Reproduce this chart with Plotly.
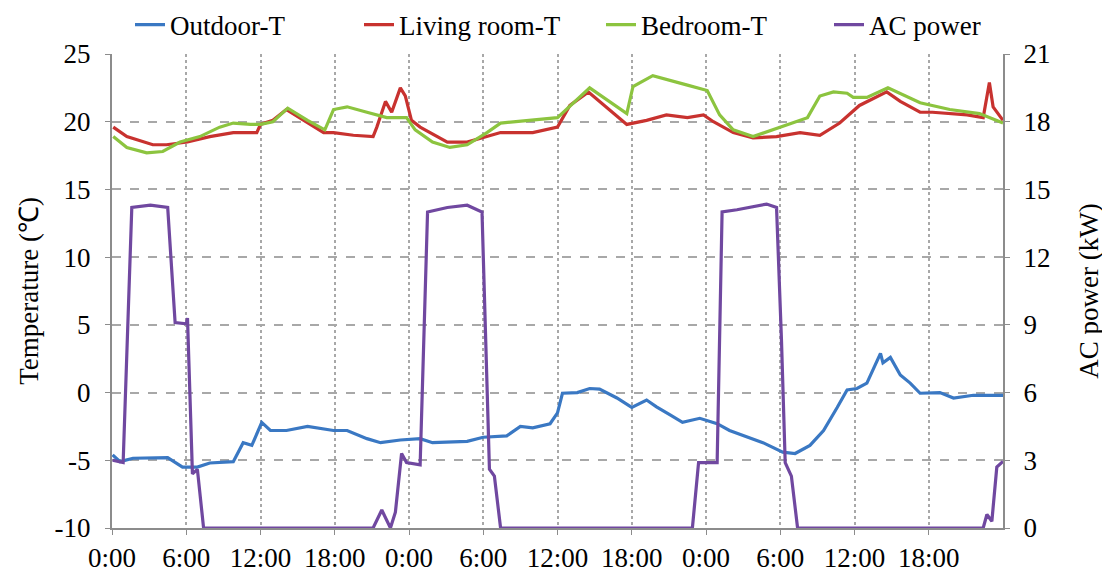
import plotly.graph_objects as go

# hours since start (0..72)
out_h = [0.05, 0.65, 1.7, 3.9, 4.5, 5.7, 6.9, 7.9, 9.8, 10.6, 11.3, 12.1, 12.8, 14.1, 15.8, 17.9, 19.0, 20.6, 21.7, 23.3,
         24.9, 25.9, 28.7, 30.0, 31.9, 33.0, 34.0, 35.4, 36.0, 36.4, 37.6, 38.6, 39.4, 40.8, 42.0, 43.2, 44.0, 45.1, 46.1,
         47.5, 48.9, 49.9, 51.6, 52.6, 54.2, 55.2, 56.4, 57.5, 58.6, 59.4, 60.2, 61.0, 62.1, 62.3, 62.9, 63.7, 64.5, 65.3,
         66.9, 68.0, 69.6, 72.0]
out_t = [-4.6, -5.1, -4.85, -4.8, -4.8, -5.5, -5.5, -5.2, -5.1, -3.7, -3.9, -2.2, -2.8, -2.8, -2.5, -2.8, -2.8, -3.4, -3.7, -3.5,
         -3.4, -3.7, -3.6, -3.3, -3.2, -2.5, -2.6, -2.3, -1.5, -0.05, 0.0, 0.3, 0.25, -0.4, -1.1, -0.55, -1.05, -1.65, -2.2,
         -1.9, -2.3, -2.8, -3.4, -3.7, -4.4, -4.5, -3.9, -2.8, -1.1, 0.2, 0.3, 0.7, 2.9, 2.2, 2.6, 1.3, 0.7, -0.05,
         0.0, -0.4, -0.2, -0.2]

living_h = [0.1, 1.2, 3.3, 4.4, 6.1, 7.9, 9.8, 11.7, 12.0, 13.0, 14.1, 15.2, 17.1, 17.9, 19.5, 21.1, 21.4, 22.1, 22.6, 23.3,
            23.7, 24.2, 24.9, 27.1, 28.7, 31.4, 34.0, 36.0, 37.0, 38.5, 39.4, 41.6, 43.2, 44.8, 46.5, 47.8, 48.6, 50.2,
            51.8, 53.7, 55.6, 57.2, 58.8, 60.4, 62.6, 63.7, 65.3, 66.3, 69.1, 70.4, 70.9, 71.2, 72.0]
living_t = [19.6, 18.9, 18.3, 18.3, 18.5, 18.9, 19.2, 19.2, 19.8, 20.1, 20.9, 20.3, 19.2, 19.2, 19.0, 18.9, 19.6, 21.5, 20.7, 22.5,
            21.9, 20.1, 19.6, 18.5, 18.5, 19.2, 19.2, 19.6, 21.2, 22.2, 21.5, 19.8, 20.1, 20.5, 20.3, 20.5, 20.0, 19.2,
            18.8, 18.9, 19.2, 19.0, 19.9, 21.2, 22.2, 21.5, 20.7, 20.7, 20.5, 20.3, 22.9, 21.1, 20.1]

bed_h = [0.1, 1.2, 2.8, 4.1, 5.5, 7.1, 8.7, 9.8, 11.2, 12.0, 13.0, 14.2, 15.8, 17.2, 17.9, 19.0, 20.6, 22.2, 23.8, 24.5,
         25.9, 27.3, 28.7, 30.3, 31.4, 34.0, 36.0, 38.6, 41.6, 42.1, 43.7, 46.5, 48.1, 49.1, 50.2, 51.8, 54.0, 56.2,
         57.2, 58.3, 59.4, 59.9, 61.0, 62.7, 65.3, 67.7, 70.1, 72.0]
bed_t = [18.9, 18.1, 17.7, 17.8, 18.5, 18.9, 19.6, 19.9, 19.8, 19.8, 20.0, 21.0, 20.1, 19.4, 20.9, 21.1, 20.7, 20.3, 20.3, 19.4,
         18.5, 18.1, 18.3, 19.2, 19.9, 20.1, 20.3, 22.5, 20.6, 22.6, 23.4, 22.7, 22.3, 20.5, 19.4, 18.9, 19.6, 20.3,
         21.9, 22.2, 22.1, 21.8, 21.8, 22.5, 21.4, 20.9, 20.6, 19.9]

ac_h = [0.05, 0.9, 1.6, 3.1, 4.5, 5.1, 6.0, 6.1, 6.5, 6.9, 7.4, 21.1, 21.8, 22.5, 22.9, 23.4, 23.8, 24.9, 25.5, 27.1,
        28.7, 29.9, 30.5, 30.9, 31.4, 46.9, 47.4, 48.9, 49.3, 50.5, 52.9, 53.7, 54.1, 54.4, 54.9, 55.4, 70.4, 70.7,
        71.1, 71.5, 72.0]
ac_kw = [3.0, 2.9, 14.2, 14.3, 14.2, 9.1, 9.05, 9.3, 2.4, 2.6, 0.0, 0.0, 0.8, 0.0, 0.7, 3.3, 2.9, 2.8, 14.0, 14.2,
         14.3, 14.0, 2.6, 2.3, 0.0, 0.0, 2.9, 2.9, 14.0, 14.1, 14.35, 14.2, 8.3, 2.9, 2.3, 0.0, 0.0, 0.6,
         0.3, 2.7, 2.95]

tick_hours = [0, 6, 12, 18, 24, 30, 36, 42, 48, 54, 60, 66]
tick_text = ["0:00", "6:00", "12:00", "18:00", "0:00", "6:00", "12:00", "18:00", "0:00", "6:00", "12:00", "18:00"]
temp_ticks = [-10, -5, 0, 5, 10, 15, 20, 25]
temp_text = ["-10", "-5", "0", "5", "10", "15", "20", "25"]
power_ticks = [0, 3, 6, 9, 12, 15, 18, 21]

FONT = "Liberation Serif"
W, H = 1102, 564  # page body has an 8px margin, so the figure is drawn at (8, 8)

fig = go.Figure()
fig.add_trace(go.Scatter(x=out_h, y=out_t, name="Outdoor-T", mode="lines", legend="legend",
                         line=dict(color="#3a78c3", width=3.2)))
fig.add_trace(go.Scatter(x=living_h, y=living_t, name="Living room-T", mode="lines", legend="legend2",
                         line=dict(color="#c8322f", width=3.2)))
fig.add_trace(go.Scatter(x=bed_h, y=bed_t, name="Bedroom-T", mode="lines", legend="legend3",
                         line=dict(color="#8cc43f", width=3.2)))
fig.add_trace(go.Scatter(x=ac_h, y=ac_kw, name="AC power", mode="lines", yaxis="y2", legend="legend4",
                         line=dict(color="#7048a0", width=3.2)))

grid_col = "#a8a8a8"
axis_col = "#8c8c8c"


def leg(xpx):
    return dict(orientation="h", x=xpx / W, xref="container", xanchor="left",
                y=1 - 17 / H, yref="container", yanchor="middle",
                font=dict(family=FONT, size=27, color="black"), bgcolor="rgba(0,0,0,0)")


fig.update_layout(
    width=W, height=H,
    margin=dict(l=104, r=107, t=46, b=44, autoexpand=False),
    paper_bgcolor="white", plot_bgcolor="white",
    font=dict(family=FONT, size=27, color="black"),
    showlegend=True,
    legend=leg(122), legend2=leg(351), legend3=leg(593), legend4=leg(821),
    xaxis=dict(range=[0, 72], tickvals=tick_hours, ticktext=tick_text, showgrid=True, gridcolor=grid_col,
               griddash="dot", gridwidth=1.5, showline=True, linecolor=axis_col, linewidth=2,
               ticks="outside", ticklen=5, tickcolor=axis_col, zeroline=False, tickangle=0,
               tickfont=dict(family=FONT, size=27)),
    yaxis=dict(range=[-10, 25], tickvals=temp_ticks, ticktext=temp_text, showgrid=True, gridcolor=grid_col,
               griddash="dash", gridwidth=1.5, showline=True, linecolor=axis_col, linewidth=2,
               ticks="outside", ticklen=5, tickcolor=axis_col, zeroline=False, ticklabelstandoff=9,
               title=dict(text="Temperature (℃)", font=dict(family=FONT, size=27), standoff=8),
               tickfont=dict(family=FONT, size=27)),
    yaxis2=dict(range=[0, 21], tickvals=power_ticks, overlaying="y", side="right", showgrid=False,
                showline=True, linecolor=axis_col, linewidth=2, ticks="outside", ticklen=5,
                tickcolor=axis_col, zeroline=False, ticklabelstandoff=8,
                title=dict(text="AC power (kW)", font=dict(family=FONT, size=27), standoff=30),
                tickfont=dict(family=FONT, size=27)),
)

fig.write_html("out.html")
